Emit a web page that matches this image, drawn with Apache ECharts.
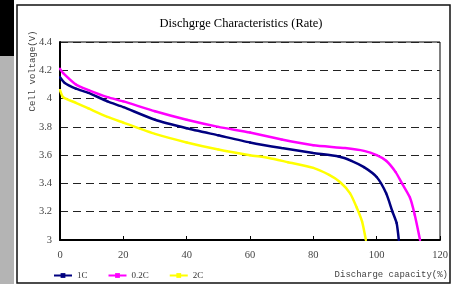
<!DOCTYPE html>
<html>
<head>
<meta charset="utf-8">
<script src="https://cdn.jsdelivr.net/npm/echarts@6/dist/echarts.min.js"></script>
<style>
  html, body { margin: 0; padding: 0; background: #fff; }
  #chart-div { width: 453px; height: 284px; }
</style>
</head>
<body>
<div id="chart-div"></div>
<script>
// luetut arvot: [kapasiteetti %, jännite V]
const rate1C = [[0, 4.15], [1.5, 4.11], [5, 4.07], [9, 4.04], [15, 3.98], [20, 3.94], [30, 3.85], [40, 3.79],
    [50, 3.74], [60, 3.69], [70, 3.65], [80, 3.615], [88, 3.59], [92, 3.56], [96, 3.515], [100, 3.445],
    [103, 3.33], [105, 3.2], [106.3, 3.12], [107, 3.0]]
const rate02C = [[0, 4.21], [1, 4.18], [5, 4.1], [9, 4.06], [15, 4.01], [20, 3.98], [30, 3.91], [40, 3.85],
    [50, 3.8], [60, 3.76], [70, 3.71], [80, 3.67], [90, 3.65], [96, 3.63], [100, 3.6], [103, 3.56],
    [106, 3.48], [108, 3.4], [110.5, 3.3], [112, 3.18], [113.7, 3.0]]
const rate2C = [[0, 4.06], [1, 4.01], [5, 3.97], [9, 3.93], [15, 3.87], [20, 3.83], [30, 3.75], [40, 3.69],
    [50, 3.64], [60, 3.6], [66, 3.58], [72, 3.55], [80, 3.51], [85, 3.46], [88.4, 3.41], [91.6, 3.33],
    [93.7, 3.23], [95.4, 3.13], [96.6, 3.0]]
const seriesNames = ['1C', '0.2C', '2C']
const seriesColors = ['#000080', '#ff00ff', '#ffff00']
const xTicks = [0, 20, 40, 60, 80, 100, 120]
const yTicks = [3, 3.2, 3.4, 3.6, 3.8, 4, 4.2, 4.4]

let myChart = echarts.init(document.getElementById('chart-div'))

const serif = 'Liberation Serif'
const mono = 'Liberation Mono'

const makeSeries = (name, data, color) => ({
    name: name,
    type: 'line',
    data: data,
    color: color,
    smooth: 0.2,
    symbol: 'rect',
    symbolSize: 2,
    lineStyle: { width: 2.5, color: color },
    itemStyle: { color: color },
    animation: false
})

const option = {
    backgroundColor: '#fff',
    title: {
        text: 'Dischgrge Characteristics (Rate)',
        left: 236,
        top: 12,
        textAlign: 'center',
        textStyle: { fontFamily: serif, fontSize: 12.5, fontWeight: 'normal', color: '#000' }
    },
    legend: {
        left: 48,
        top: 266,
        itemWidth: 18,
        itemHeight: 6,
        itemGap: 20,
        textStyle: { fontFamily: serif, fontSize: 9, color: '#333' },
        data: seriesNames
    },
    grid: {
        left: 60, right: 13, top: 42, bottom: 44,
        show: true, borderColor: '#000', borderWidth: 1
    },
    xAxis: {
        type: 'value',
        min: xTicks[0], max: xTicks[xTicks.length - 1], interval: 20,
        axisLine: { lineStyle: { color: '#000', width: 2 } },
        axisTick: { inside: true, length: 4, lineStyle: { color: '#000' } },
        axisLabel: { fontFamily: serif, fontSize: 10.5, color: '#444', margin: 10 },
        splitLine: { show: false }
    },
    yAxis: {
        type: 'value',
        min: yTicks[0], max: yTicks[yTicks.length - 1], interval: 0.2,
        axisLine: { show: true, lineStyle: { color: '#000', width: 2 } },
        axisTick: { show: false },
        axisLabel: {
            fontFamily: serif, fontSize: 10.5, color: '#444', margin: 8,
            formatter: v => (Math.round(v * 10) / 10).toString()
        },
        splitLine: { lineStyle: { color: '#222', type: [8, 5], width: 1 } }
    },
    graphic: [
        { type: 'rect', shape: { x: 0, y: 0, width: 14, height: 56 }, style: { fill: '#000' } },
        { type: 'rect', shape: { x: 0, y: 56, width: 14, height: 228 }, style: { fill: '#b4b4b4' } },
        { type: 'rect', shape: { x: 17, y: 5, width: 433, height: 278 }, style: { fill: 'none', stroke: '#111', lineWidth: 1.5 } },
        {
            type: 'text', x: 33, y: 71, rotation: Math.PI / 2,
            style: { text: 'Cell voltage(V)', fontFamily: mono, fontSize: 9, fill: '#444', align: 'center', verticalAlign: 'middle' }
        },
        {
            type: 'text', x: 448, y: 275,
            style: { text: 'Discharge capacity(%)', fontFamily: mono, fontSize: 9, fill: '#444', align: 'right', verticalAlign: 'middle' }
        }
    ],
    series: [
        makeSeries(seriesNames[0], rate1C, seriesColors[0]),
        makeSeries(seriesNames[1], rate02C, seriesColors[1]),
        makeSeries(seriesNames[2], rate2C, seriesColors[2])
    ]
}

myChart.setOption(option)
</script>
</body>
</html>
